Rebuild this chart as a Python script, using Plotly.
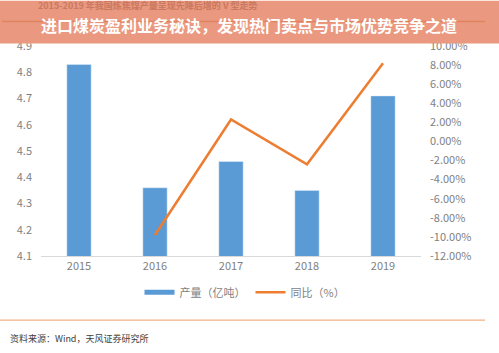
import plotly.graph_objects as go

years = ["2015", "2016", "2017", "2018", "2019"]
output = [4.83, 4.36, 4.46, 4.35, 4.71]          # 产量（亿吨）
yoy_years = ["2016", "2017", "2018", "2019"]
yoy = [-9.8, 2.3, -2.4, 8.2]                      # 同比（%）
left_ticks = [4.1, 4.2, 4.3, 4.4, 4.5, 4.6, 4.7, 4.8, 4.9]
right_ticks = [-12, -10, -8, -6, -4, -2, 0, 2, 4, 6, 8, 10]
right_labels = ["-12.00%", "-10.00%", "-8.00%", "-6.00%", "-4.00%", "-2.00%",
                "0.00%", "2.00%", "4.00%", "6.00%", "8.00%", "10.00%"]

W, H = 499, 353
L, R, T, B = 41, 421, 45.5, 256.5

def px(x):
    return (x - L) / (R - L)

def py(y):
    return (B - y) / (B - T)

FONT = "Noto Sans CJK SC"
BLUE = "#5B9BD5"
ORANGE = "#ED7D31"
GRAY = "#7F7F7F"

fig = go.Figure()
fig.add_trace(go.Bar(x=years, y=output, marker_color=BLUE, name="产量（亿吨）",
                     showlegend=False, legendgroup="a", yaxis="y"))
fig.add_trace(go.Scatter(x=[None], y=[None], mode="lines", name="产量（亿吨）",
                         line=dict(color=BLUE, width=5), legendgroup="a"))
fig.add_trace(go.Scatter(x=yoy_years, y=yoy, mode="lines", name="同比（%）",
                         line=dict(color=ORANGE, width=2.5), yaxis="y2"))

shapes = [
    dict(type="rect", xref="paper", yref="paper", x0=px(0), x1=px(W), y0=py(43), y1=py(0),
         fillcolor="#EA9880", line_width=0, layer="above"),
    dict(type="line", xref="paper", yref="paper", x0=px(2), x1=px(485), y0=py(21), y1=py(21),
         line=dict(color="#E0835F", width=1.5), layer="above"),
    dict(type="line", xref="paper", yref="paper", x0=px(0), x1=px(485), y0=py(321), y1=py(321),
         line=dict(color="#F4B183", width=1.2)),
]

annotations = [
    dict(text="<b>进口煤炭盈利业务秘诀，发现热门卖点与市场优势竞争之道</b>", xref="paper", yref="paper",
         x=px(248.5), y=py(24.5), xanchor="center", yanchor="middle", showarrow=False,
         font=dict(family=FONT, size=16, color="white")),
    dict(text="资料来源：Wind，天风证券研究所", xref="paper", yref="paper",
         x=px(8), y=py(339), xanchor="left", yanchor="middle", showarrow=False,
         font=dict(family=FONT, size=9, color="#404040")),
]

fig.update_layout(
    width=W, height=H,
    margin=dict(l=L, r=W - R, t=T, b=H - B, pad=0),
    paper_bgcolor="white", plot_bgcolor="white",
    font=dict(family=FONT, size=11, color=GRAY),
    title=dict(text="<b>2015-2019 年我国炼焦煤产量呈现先降后增的 V 型走势</b>",
               xref="container", yref="container", x=38 / W, y=1 - 6 / H,
               xanchor="left", yanchor="middle",
               font=dict(family=FONT, size=9, color="#C8795F")),
    bargap=0.68,
    xaxis=dict(type="category", range=[-0.5, 4.5], showgrid=False, showline=True,
               linecolor="#D9D9D9", linewidth=1, ticks="", zeroline=False,
               tickfont=dict(size=11, color=GRAY)),
    yaxis=dict(range=[4.1, 4.9], tickvals=left_ticks, tickformat=".1f", showgrid=False,
               zeroline=False, showline=False, ticks="", ticklabelstandoff=8,
               tickfont=dict(size=11, color=GRAY)),
    yaxis2=dict(range=[-12, 10], overlaying="y", side="right", tickvals=right_ticks,
                ticktext=right_labels, showgrid=False, zeroline=False, showline=False,
                ticks="", ticklabelstandoff=8, tickfont=dict(size=11, color=GRAY)),
    legend=dict(orientation="h", x=px(245), xanchor="center", y=py(293), yanchor="middle",
                font=dict(size=11, color=GRAY), bgcolor="rgba(0,0,0,0)"),
    shapes=shapes,
    annotations=annotations,
)

fig.write_html("out.html")
